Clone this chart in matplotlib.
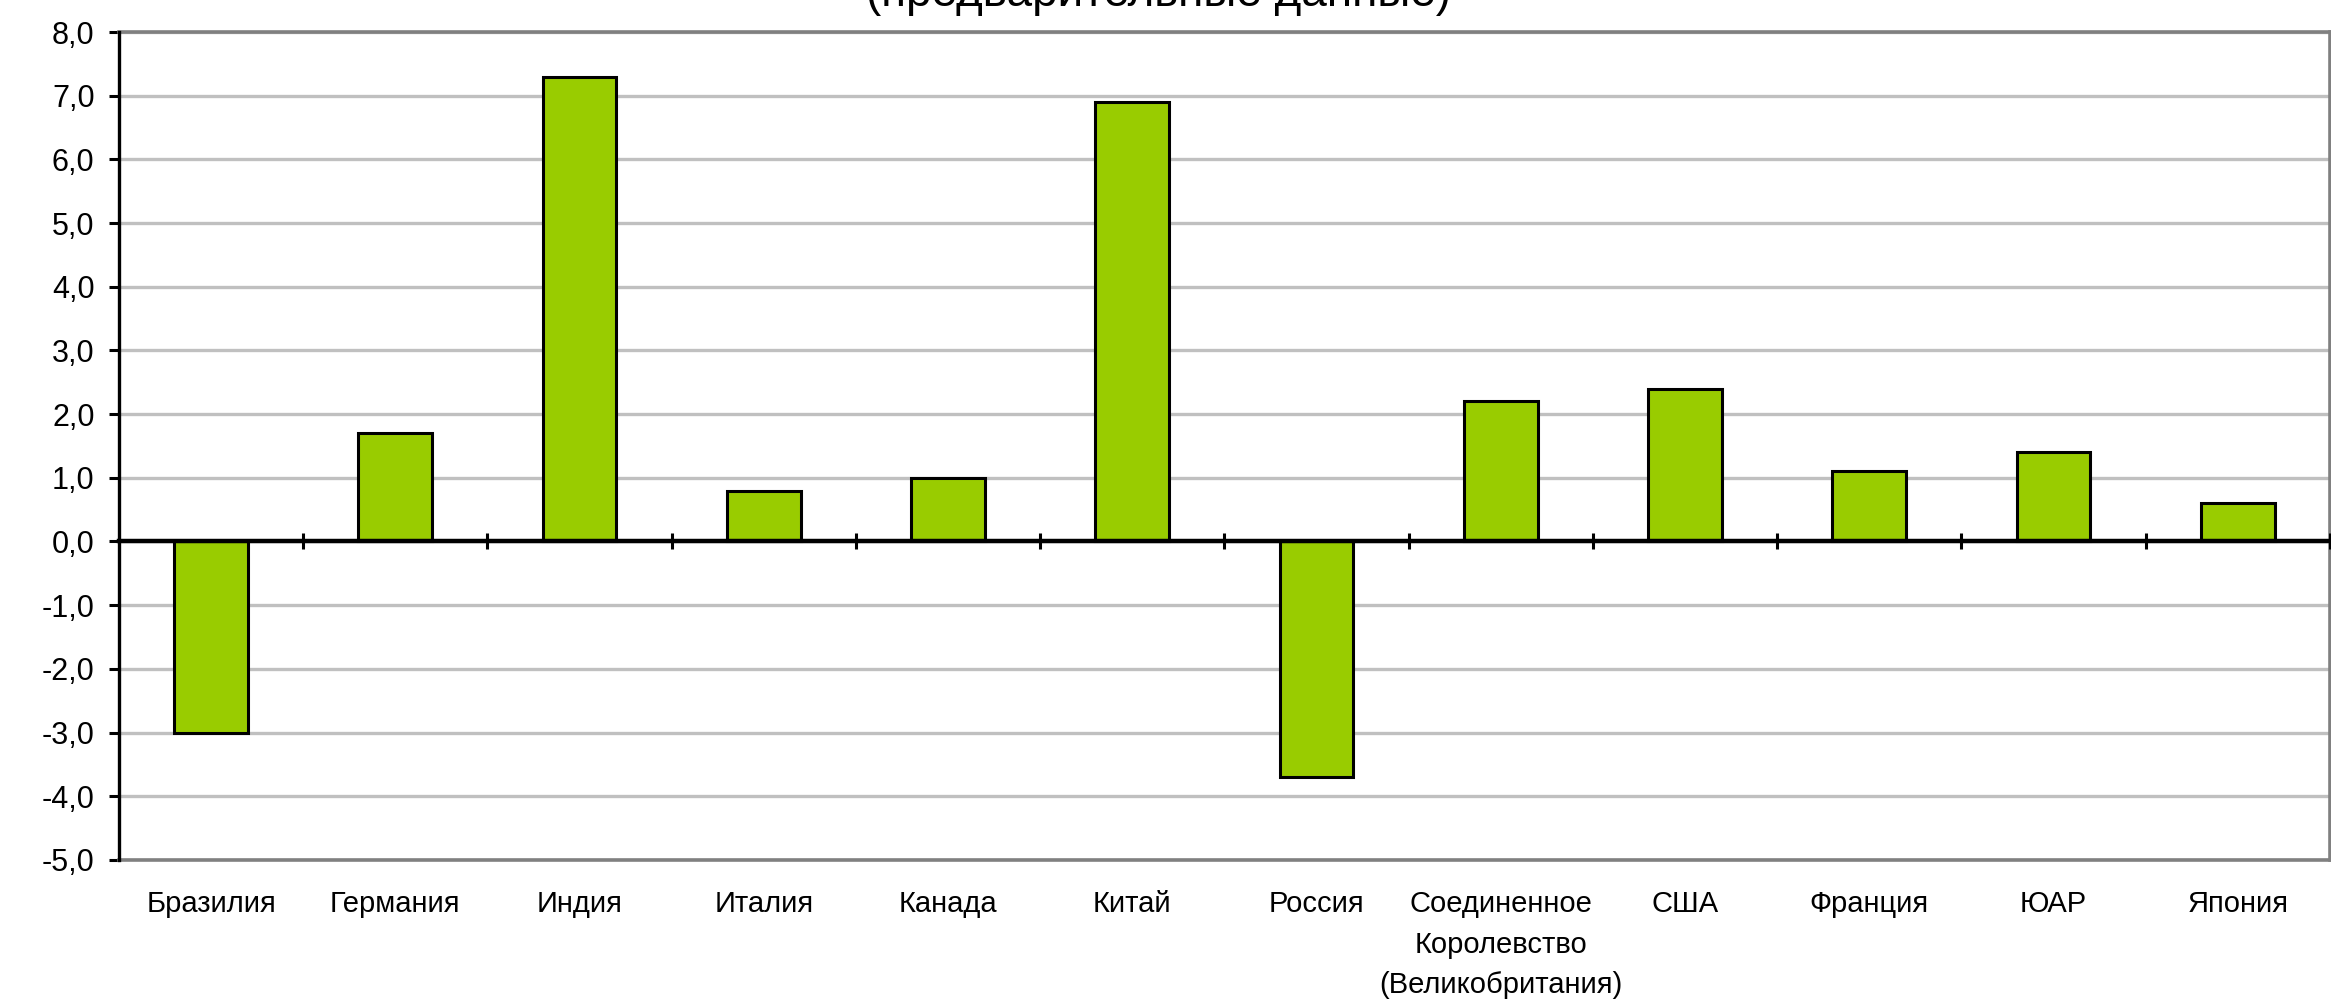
import matplotlib as mpl
mpl.use('Agg')
import matplotlib.pyplot as plt
from matplotlib.ticker import FixedLocator, FuncFormatter
import numpy as np

mpl.rcParams['font.family'] = ['Liberation Sans', 'DejaVu Sans']

countries = ['Бразилия', 'Германия', 'Индия', 'Италия', 'Канада', 'Китай',
             'Россия', 'Соединенное\nКоролевство\n(Великобритания)', 'США',
             'Франция', 'ЮАР', 'Япония']
growth = [-3.0, 1.7, 7.3, 0.8, 1.0, 6.9, -3.7, 2.2, 2.4, 1.1, 1.4, 0.6]
subtitle = '(предварительные данные)'

ymin, ymax = -5, 8

fig = plt.figure(figsize=(23.31, 10.01), dpi=100)
ax = fig.add_axes([0.051, 0.141, 0.9485, 0.827])

x = np.arange(len(countries))
ax.bar(x, growth, width=0.4, color='#99CC00', edgecolor='black', linewidth=2.2, zorder=3)

ax.set_xlim(-0.5, len(countries) - 0.5)
ax.set_ylim(ymin, ymax)
ax.set_yticks(np.arange(ymin, ymax + 1, 1))
ax.yaxis.set_major_formatter(FuncFormatter(lambda v, p: '{:.1f}'.format(v).replace('.', ',')))
ax.grid(axis='y', color='#C0C0C0', linewidth=2.4, zorder=0)
ax.set_axisbelow(True)

ax.set_xticks(x)
ax.set_xticklabels(countries, fontsize=21, linespacing=1.55, va='top')
ax.tick_params(axis='x', length=0, pad=22)
ax.tick_params(axis='y', length=7.5, width=2.2, labelsize=22, pad=10, color='black')

for s in ['top', 'right', 'bottom']:
    ax.spines[s].set_color('#808080')
    ax.spines[s].set_linewidth(2.6)
ax.spines['left'].set_color('black')
ax.spines['left'].set_linewidth(2.4)
ax.spines['left'].set_zorder(5)

# zero line with category separator ticks
zero_pos = (0 - ymin) / (ymax - ymin)
sec = ax.secondary_xaxis(zero_pos)
sec.spines['bottom'].set_linewidth(3.2)
sec.spines['bottom'].set_color('black')
sec.xaxis.set_major_locator(FixedLocator(np.arange(0.5, len(countries), 1)))
sec.tick_params(axis='x', direction='inout', length=11, width=2.2, labelbottom=False)
sec.set_zorder(4)

fig.text(0.497, 1 - 6 / 1001, subtitle, ha='center', va='baseline', fontsize=33)

fig.savefig('out.png', dpi=100)
